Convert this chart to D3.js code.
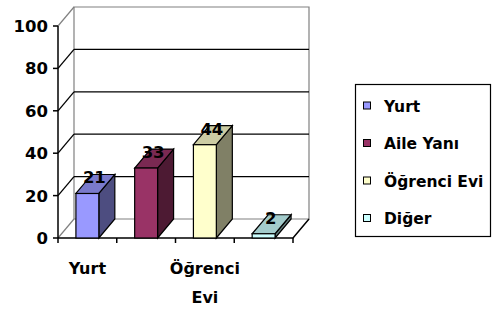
<!DOCTYPE html>
<html>
<head>
<meta charset="utf-8">
<script src="https://cdn.jsdelivr.net/npm/d3@7"></script>
<style>
  body{margin:0;background:#fff;}
  text{font-family:"DejaVu Sans",Verdana,sans-serif;font-weight:bold;}
</style>
</head>
<body>
<svg width="492" height="309"></svg>
<script>
// data
var categories = ['Yurt','Aile Yanı','Öğrenci Evi','Diğer'];
var values = [21,33,44,2];
var yTicks = [0,20,40,60,80,100];
// excel only printed every other category label
var xLabels = [['Yurt'],[],['Öğrenci','Evi'],[]];
var fronts = ['#9999ff','#993366','#ffffcc','#ccffff'];
var tops = ['#7a7acc','#7a2952','#cccca3','#a3cccc'];
var sides = ['#4d4d80','#4d1a33','#808066','#668080'];

var svg = d3.select('svg');
var dx = 16, dy = -19; // depth of the 3d box

var y = d3.scaleLinear().domain([0,100]).range([238,26]);
var x = d3.scaleBand().domain(categories).range([58,293]).padding(0);
var bw = x.bandwidth()*0.39;

var g = svg.append('g');

// back wall + side wall outlines
g.append('path').attr('d','M'+(58+dx)+','+(y(0)+dy)+'V'+(y(100)+dy)+'H'+(293+dx)+'V'+(y(0)+dy)+'H'+(58+dx))
  .attr('fill','none').attr('stroke','#808080').attr('stroke-width',1.2);
g.append('line').attr('x1',58).attr('y1',y(100)).attr('x2',58+dx).attr('y2',y(100)+dy).attr('stroke','#808080').attr('stroke-width',1.2);
g.append('line').attr('x1',58).attr('y1',y(0)).attr('x2',58+dx).attr('y2',y(0)+dy).attr('stroke','#808080').attr('stroke-width',1.2);

// gridlines on back wall and slants on side wall
var mid = yTicks.filter(function(t){return t>0 && t<100;});
g.selectAll('.grid').data(mid).enter().append('line').attr('class','grid')
  .attr('x1',58+dx).attr('x2',293+dx).attr('y1',function(d){return y(d)+dy}).attr('y2',function(d){return y(d)+dy})
  .attr('stroke','#000').attr('stroke-width',1.3);
g.selectAll('.slant').data(mid).enter().append('line').attr('class','slant')
  .attr('x1',58).attr('x2',58+dx).attr('y1',function(d){return y(d)}).attr('y2',function(d){return y(d)+dy})
  .attr('stroke','#000').attr('stroke-width',1.3);

// floor front + right edge
g.append('path').attr('d','M58,'+y(0)+'H293L'+(293+dx)+','+(y(0)+dy))
  .attr('fill','none').attr('stroke','#000').attr('stroke-width',1.5);

// y axis
g.append('line').attr('x1',58).attr('x2',58).attr('y1',y(0)).attr('y2',y(100)).attr('stroke','#000').attr('stroke-width',1.5);
g.selectAll('.ytick').data(yTicks).enter().append('line').attr('class','ytick')
  .attr('x1',53).attr('x2',58).attr('y1',function(d){return y(d)}).attr('y2',function(d){return y(d)})
  .attr('stroke','#000').attr('stroke-width',1.5);
g.selectAll('.ylab').data(yTicks).enter().append('text').attr('class','ylab')
  .attr('x',48).attr('y',function(d){return y(d)}).attr('dy','0.36em').attr('text-anchor','end')
  .attr('font-size',16.5).text(function(d){return d});

// x ticks at category boundaries
var bounds = categories.map(function(c){return x(c)}).concat([293]);
g.selectAll('.xtick').data(bounds).enter().append('line').attr('class','xtick')
  .attr('x1',function(d){return d}).attr('x2',function(d){return d}).attr('y1',y(0)).attr('y2',y(0)+5)
  .attr('stroke','#000').attr('stroke-width',1.5);

// x labels
categories.forEach(function(c,i){
  xLabels[i].forEach(function(line,j){
    g.append('text').attr('x',x(c)+x.bandwidth()/2).attr('y',268+j*29).attr('dy','0.36em')
      .attr('text-anchor','middle').attr('font-size',16).text(line);
  });
});

// bars
var bars = g.selectAll('.bar').data(values).enter().append('g').attr('class','bar');
bars.each(function(v,i){
  var b = d3.select(this);
  var x0 = x(categories[i])+x.bandwidth()/2-bw/2, x1 = x0+bw, yt = y(v), yb = y(0);
  b.append('path').attr('d','M'+x1+','+yb+'L'+(x1+dx)+','+(yb+dy)+'L'+(x1+dx)+','+(yt+dy)+'L'+x1+','+yt+'Z')
    .attr('fill',sides[i]).attr('stroke','#000').attr('stroke-width',1.2);
  b.append('path').attr('d','M'+x0+','+yt+'L'+(x0+dx)+','+(yt+dy)+'L'+(x1+dx)+','+(yt+dy)+'L'+x1+','+yt+'Z')
    .attr('fill',tops[i]).attr('stroke','#000').attr('stroke-width',1.2);
  b.append('rect').attr('x',x0).attr('y',yt).attr('width',bw).attr('height',yb-yt)
    .attr('fill',fronts[i]).attr('stroke','#000').attr('stroke-width',1.2);
  b.append('text').attr('x',x0+bw/2+7).attr('y',yt-16).attr('dy','0.36em').attr('text-anchor','middle')
    .attr('font-size',16.5).attr('fill','#000').text(v);
});

// legend
var lg = svg.append('g');
lg.append('rect').attr('x',355.5).attr('y',84.5).attr('width',135).attr('height',152)
  .attr('fill','#fff').attr('stroke','#000').attr('stroke-width',1.2);
categories.forEach(function(c,i){
  var cy = 106+i*37.5;
  lg.append('rect').attr('x',363.5).attr('y',cy-4).attr('width',7).attr('height',7)
    .attr('fill',fronts[i]).attr('stroke','#000').attr('stroke-width',1);
  lg.append('text').attr('x',384).attr('y',cy).attr('dy','0.36em').attr('font-size',15.5).text(c);
});
</script>
</body>
</html>
